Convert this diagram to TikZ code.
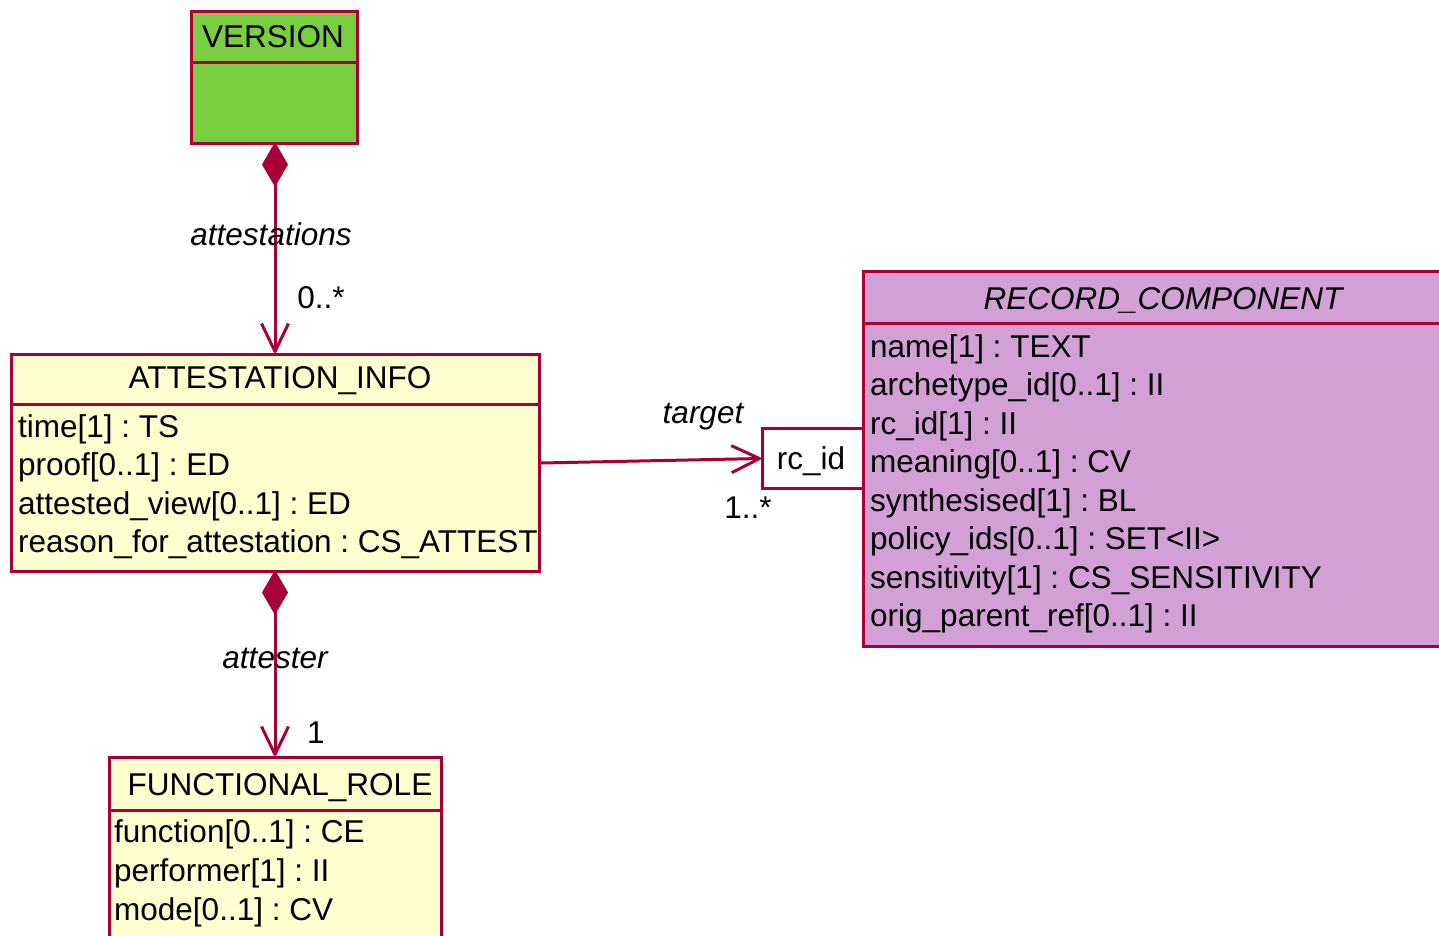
\documentclass[tikz,border=0pt]{standalone}
\usepackage{fontspec}
\setmainfont{Liberation Sans}
\usetikzlibrary{arrows.meta}
\definecolor{umlborder}{RGB}{168,0,54}
\definecolor{umlyellow}{RGB}{254,254,206}
\definecolor{umlgreen}{RGB}{121,207,64}
\definecolor{umlpurple}{RGB}{210,160,213}
\tikzset{
  box/.style={draw=umlborder, line width=3pt, anchor=north west, inner sep=0pt, minimum width=#1},
  txt/.style={anchor=base west, inner sep=0pt, font=\fontsize{31.5}{36}\selectfont\frenchspacing},
  ctxt/.style={anchor=base, inner sep=0pt, font=\fontsize{31.5}{36}\selectfont\frenchspacing},
  itxt/.style={anchor=base, inner sep=0pt, font=\fontsize{31.5}{36}\selectfont\itshape},
  conn/.style={draw=umlborder, line width=3pt},
  composes/.style={conn, {Diamond[length=45pt,width=26pt,fill=umlborder]}-{Straight Barb[length=28pt,width=27pt,line join=round]}},
  navig/.style={conn, -{Straight Barb[length=28pt,width=27pt,line join=round]}},
  divider/.style={draw=umlborder, line width=3pt}
}
\begin{document}
\begin{tikzpicture}[x=1pt,y=-1pt]
\useasboundingbox (0,0) rectangle (1439,935);
% VERSION
\node[box=166pt, minimum height=132pt, fill=umlgreen] (version) at (190,10) {};
\draw[divider] (190,62) -- (356,62);
\node[ctxt] (versiont) at (273,47) {VERSION};
% ATTESTATION_INFO
\node[box=528pt, minimum height=217pt, fill=umlyellow] (att) at (10,353) {};
\draw[divider] (10,404) -- (538,404);
\node[ctxt] (attt) at (280,388) {ATTESTATION\_INFO};
\node[txt] (a1) at (18,437) {time[1] : TS};
\node[txt] (a2) at (18,475.5) {proof[0..1] : ED};
\node[txt] (a3) at (18,514) {attested\_view[0..1] : ED};
\node[txt] (a4) at (18,552.5) {reason\_for\_attestation : CS\_ATTEST};
% RECORD_COMPONENT
\node[box=600pt, minimum height=375pt, fill=umlpurple] (rc) at (862,270) {};
\draw[divider] (862,323) -- (1470,323);
\node[itxt] (rct) at (1163,309) {RECORD\_COMPONENT};
\node[txt] (r1) at (870,357) {name[1] : TEXT};
\node[txt] (r2) at (870,395.5) {archetype\_id[0..1] : II};
\node[txt] (r3) at (870,434) {rc\_id[1] : II};
\node[txt] (r4) at (870,472.5) {meaning[0..1] : CV};
\node[txt] (r5) at (870,511) {synthesised[1] : BL};
\node[txt] (r6) at (870,549.5) {policy\_ids[0..1] : SET<II>};
\node[txt] (r7) at (870,588) {sensitivity[1] : CS\_SENSITIVITY};
\node[txt] (r8) at (870,626) {orig\_parent\_ref[0..1] : II};
% qualifier
\node[box=101pt, minimum height=60pt, fill=white] (rcid) at (761,427) {};
\node[ctxt] (rcidt) at (811,469) {rc\_id};
% FUNCTIONAL_ROLE
\node[box=332pt, minimum height=220pt, fill=umlyellow] (fr) at (108,756) {};
\draw[divider] (108,810) -- (440,810);
\node[ctxt] (frt) at (280,795) {FUNCTIONAL\_ROLE};
\node[txt] (f1) at (114,842) {function[0..1] : CE};
\node[txt] (f2) at (114,881) {performer[1] : II};
\node[txt] (f3) at (114,920) {mode[0..1] : CV};
% connectors
\coordinate (vs) at (275,142);
\coordinate (an) at (275,353);
\coordinate (as) at (275,570);
\coordinate (fn) at (275,756);
\draw[composes] (vs) -- (an);
\draw[composes] (as) -- (fn);
\draw[navig] (att.east) -- (rcid.west);
% labels
\node[itxt] (l1) at (271,245) {attestations};
\node[ctxt] (m1) at (321,308) {0..*};
\node[itxt] (l2) at (275,668) {attester};
\node[ctxt] (m2) at (316,743) {1};
\node[itxt] (l3) at (703,423) {target};
\node[ctxt] (m3) at (748,518) {1..*};
\end{tikzpicture}
\end{document}
